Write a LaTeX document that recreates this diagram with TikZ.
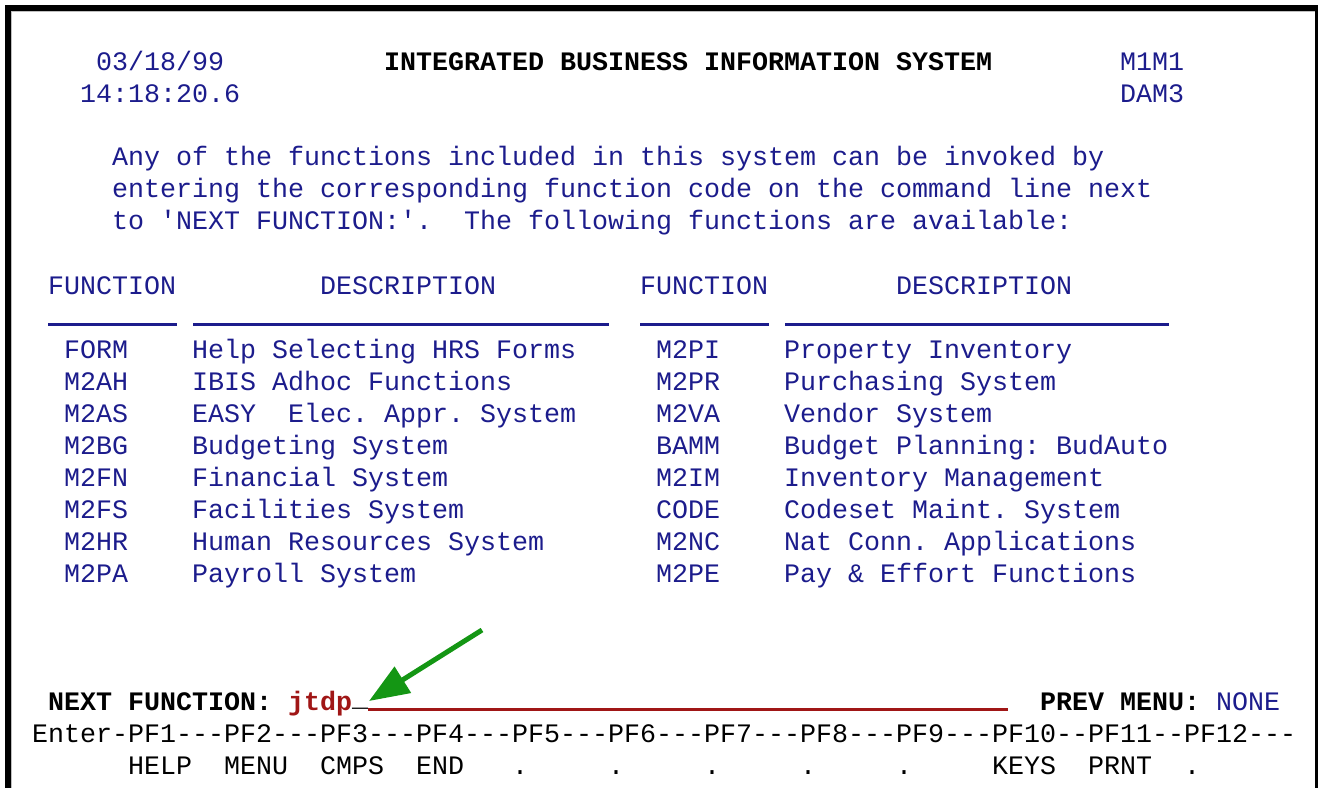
\documentclass[tikz,border=0pt]{standalone}
\usepackage{fontspec}
\setmonofont{Liberation Mono}
\usepackage{tikz}
\usetikzlibrary{arrows.meta}

\definecolor{termblue}{RGB}{28,28,140}
\definecolor{termred}{RGB}{160,22,22}
\definecolor{arrowgreen}{RGB}{20,150,20}
\newcommand{\scrfont}{\ttfamily\fontsize{26.67pt}{32pt}\selectfont\frenchspacing}

\tikzset{
  txt/.style={anchor=base west, inner sep=0pt, outer sep=0pt,
              text=termblue, font=\scrfont},
  blk/.style={txt, text=black},
  bld/.style={txt, text=black, font=\scrfont\bfseries},
  uline/.style={termblue, line width=3pt},
  inputline/.style={termred, line width=3pt},
}

\begin{document}
\begin{tikzpicture}[x=1pt,y=1pt]
\useasboundingbox (0,0) rectangle (1321,-787);
% screen frame
\draw[gray!50, line width=1pt] (11.5,-800) |- (1316,-11.5);
\draw[line width=6pt] (8,-800) |- (1318,-8);
\draw[line width=2.5pt] (1316.5,-8) -- (1316.5,-800);

% header lines
\node[txt] (date) at (96,-70) {03/18/99};
\node[txt] (time) at (80,-102) {14:18:20.6};
\node[bld] (title) at (384,-70) {INTEGRATED BUSINESS INFORMATION SYSTEM};
\node[txt] (screenid) at (1120,-70) {M1M1};
\node[txt] (termid) at (1120,-102) {DAM3};

% intro text
\node[txt] (intro1) at (112,-165) {Any of the functions included in this system can be invoked by};
\node[txt] (intro2) at (112,-197) {entering the corresponding function code on the command line next};
\node[txt] (intro3) at (112,-229) {to 'NEXT FUNCTION:'.~~The following functions are available:};

% column heads
\node[txt] (fnhead1) at (48,-294) {FUNCTION};
\node[txt] (dshead1) at (320,-294) {DESCRIPTION};
\node[txt] (fnhead2) at (640,-294) {FUNCTION};
\node[txt] (dshead2) at (896,-294) {DESCRIPTION};
\foreach \a/\b in {48/177, 193/609, 640/769, 785/1169}
  \draw[uline] (\a,-324) -- (\b,-324);

% function table
\foreach \code/\desc/\codeb/\descb [count=\i from 0] in
  {FORM/Help Selecting HRS Forms/M2PI/Property Inventory,
   M2AH/IBIS Adhoc Functions/M2PR/Purchasing System,
   M2AS/EASY~~Elec. Appr. System/M2VA/Vendor System,
   M2BG/Budgeting System/BAMM/Budget Planning: BudAuto,
   M2FN/Financial System/M2IM/Inventory Management,
   M2FS/Facilities System/CODE/Codeset Maint. System,
   M2HR/Human Resources System/M2NC/Nat Conn. Applications,
   M2PA/Payroll System/M2PE/Pay \& Effort Functions}
{
  \node[txt] (codel\i) at (64,{-358-32*\i}) {\code};
  \node[txt] (descl\i) at (192,{-358-32*\i}) {\desc};
  \node[txt] (coder\i) at (656,{-358-32*\i}) {\codeb};
  \node[txt] (descr\i) at (784,{-358-32*\i}) {\descb};
}

% command line
\node[bld] (nextfn) at (48,-710) {NEXT FUNCTION:};
\node[bld, text=termred] (entry) at (288,-710) {jtdp};
\node[bld] (cursor) at (352,-710) {\raisebox{4pt}{\_}};
\draw[inputline] ([yshift=0.5pt]cursor.base east) -- ++(640,0);
\node[bld] (prevmenu) at (1040,-710) {PREV MENU:};
\node[txt] (prevval) at (1216,-710) {NONE};

% green pointer
\coordinate (arrtail) at (482,-630);
\draw[arrowgreen, line width=5pt, -{Triangle[length=40pt,width=30pt]}]
  (arrtail) -- ([shift={(1pt,9pt)}]cursor.base east);

% function keys
\node[blk] (pfkeys) at (32,-742) {Enter-PF1---PF2---PF3---PF4---PF5---PF6---PF7---PF8---PF9---PF10--PF11--PF12---};
\foreach \lbl [count=\k from 0] in {HELP,MENU,CMPS,END,.,.,.,.,.,KEYS,PRNT,.}
  \node[blk] (pf\k) at ({128+96*\k},-774) {\lbl};
\end{tikzpicture}
\end{document}
